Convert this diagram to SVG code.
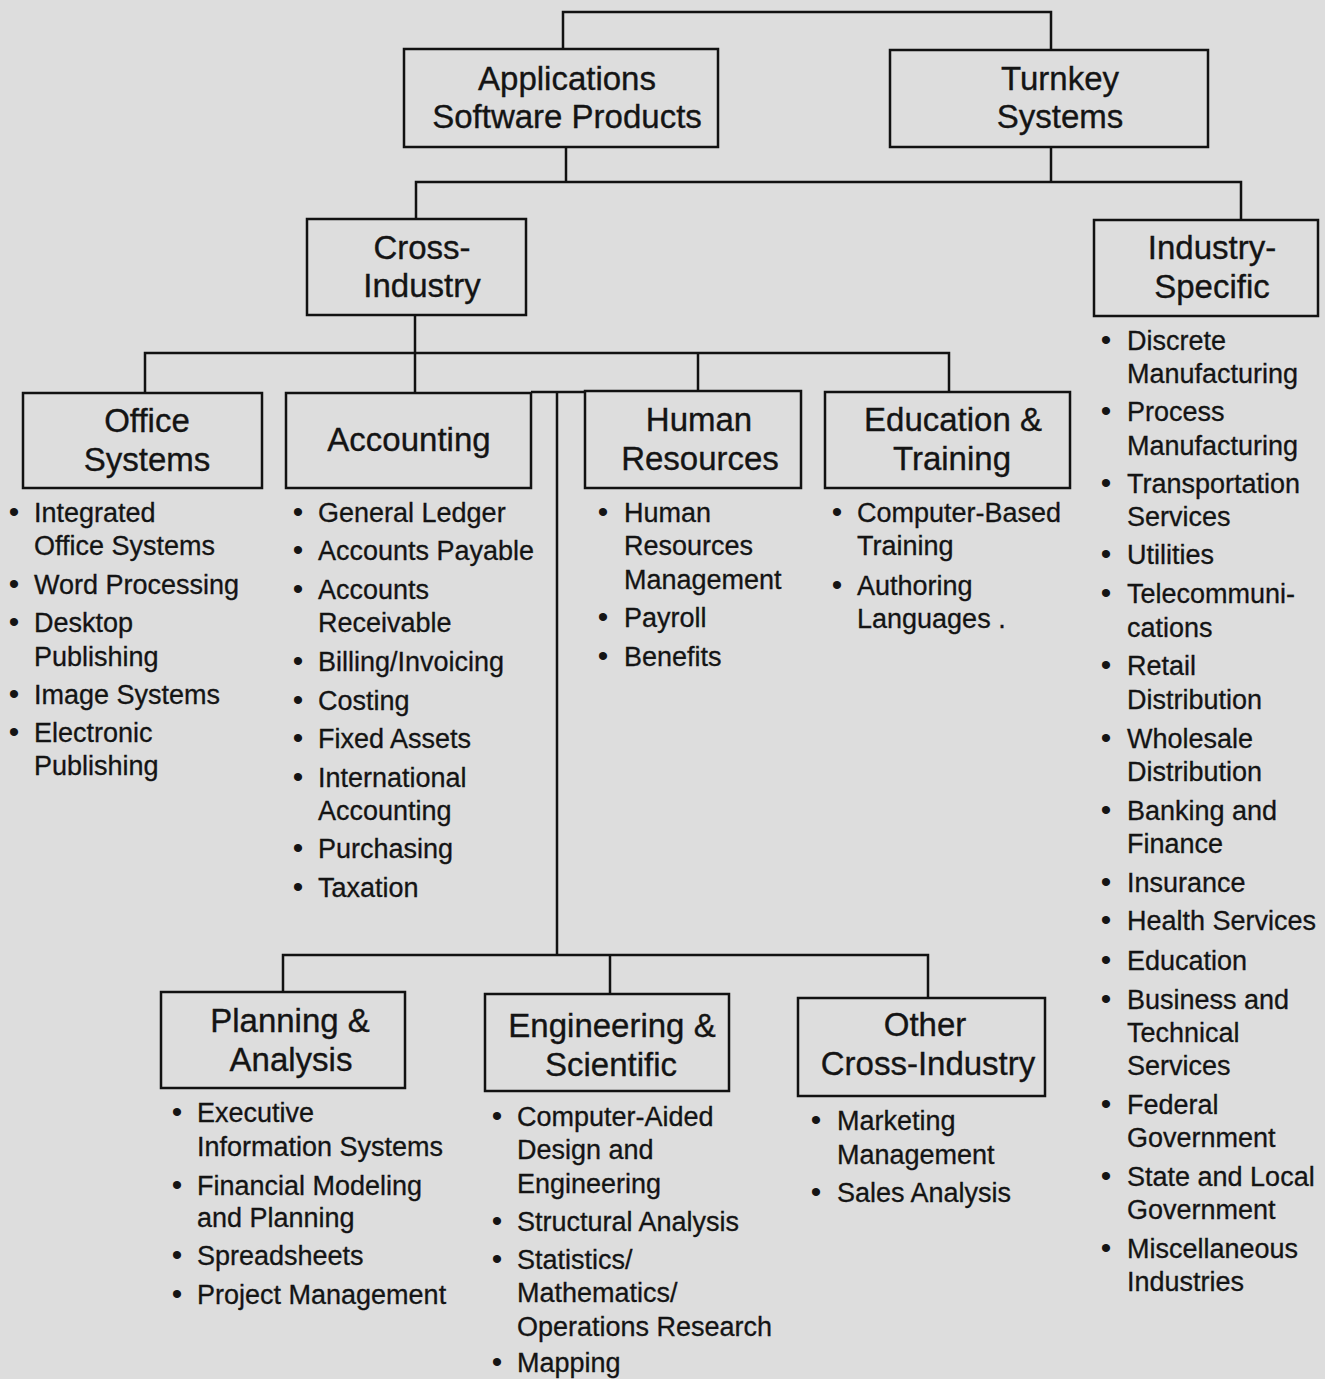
<svg xmlns="http://www.w3.org/2000/svg" width="1325" height="1379" viewBox="0 0 1325 1379">
  <style>
    .bg { fill: #dddddd; }
    .box { fill: none; stroke: #111; stroke-width: 2.5; }
    .wire { fill: none; stroke: #111; stroke-width: 2.5; }
    .title { font-family: "Liberation Sans", Arial, sans-serif; font-size: 33px; fill: #141414; stroke: #141414; stroke-width: 0.35; text-anchor: middle; }
    .item { font-family: "Liberation Sans", Arial, sans-serif; font-size: 27px; fill: #141414; stroke: #141414; stroke-width: 0.3; }
    .dot { font-family: "Liberation Sans", Arial, sans-serif; font-size: 30px; fill: #141414; text-anchor: middle; }
  </style>
  <rect class="bg" x="0" y="0" width="1325" height="1379"/>

  <!-- connectors -->
  <g id="connectors" class="wire">
    <polyline points="563,49 563,12 1051,12 1051,50"/>
    <line x1="566" y1="147" x2="566" y2="182"/>
    <line x1="1051" y1="147" x2="1051" y2="182"/>
    <polyline points="416,219 416,182 1241,182 1241,220"/>
    <line x1="415" y1="315" x2="415" y2="393"/>
    <polyline points="145,393 145,353 949,353 949,392"/>
    <line x1="698" y1="353" x2="698" y2="391"/>
    <line x1="531" y1="392" x2="585" y2="392"/>
    <line x1="557" y1="392" x2="557" y2="955"/>
    <polyline points="283,992 283,955 928,955 928,998"/>
    <line x1="610" y1="955" x2="610" y2="994"/>
  </g>

  <!-- top level -->
  <g id="applications">
    <rect class="box" x="404" y="49" width="314" height="98"/>
    <text class="title" x="567" y="90">Applications</text>
    <text class="title" x="567" y="128">Software Products</text>
  </g>
  <g id="turnkey">
    <rect class="box" x="890" y="50" width="318" height="97"/>
    <text class="title" x="1060" y="90">Turnkey</text>
    <text class="title" x="1060" y="128">Systems</text>
  </g>

  <!-- second level -->
  <g id="cross-industry">
    <rect class="box" x="307" y="219" width="219" height="96"/>
    <text class="title" x="422" y="259">Cross-</text>
    <text class="title" x="422" y="297">Industry</text>
  </g>
  <g id="industry-specific">
    <rect class="box" x="1094" y="220" width="224" height="96"/>
    <text class="title" x="1212" y="259">Industry-</text>
    <text class="title" x="1212" y="298">Specific</text>
    <g class="dot">
      <text x="1106" y="350">•</text><text x="1106" y="421">•</text><text x="1106" y="493">•</text>
      <text x="1106" y="564">•</text><text x="1106" y="603">•</text><text x="1106" y="675">•</text>
      <text x="1106" y="748">•</text><text x="1106" y="820">•</text><text x="1106" y="892">•</text>
      <text x="1106" y="930">•</text><text x="1106" y="970">•</text><text x="1106" y="1009">•</text>
      <text x="1106" y="1114">•</text><text x="1106" y="1186">•</text><text x="1106" y="1258">•</text>
    </g>
    <g class="item">
      <text x="1127" y="350">Discrete</text>
      <text x="1127" y="383">Manufacturing</text>
      <text x="1127" y="421">Process</text>
      <text x="1127" y="455">Manufacturing</text>
      <text x="1127" y="493">Transportation</text>
      <text x="1127" y="526">Services</text>
      <text x="1127" y="564">Utilities</text>
      <text x="1127" y="603">Telecommuni-</text>
      <text x="1127" y="637">cations</text>
      <text x="1127" y="675">Retail</text>
      <text x="1127" y="709">Distribution</text>
      <text x="1127" y="748">Wholesale</text>
      <text x="1127" y="781">Distribution</text>
      <text x="1127" y="820">Banking and</text>
      <text x="1127" y="853">Finance</text>
      <text x="1127" y="892">Insurance</text>
      <text x="1127" y="930">Health Services</text>
      <text x="1127" y="970">Education</text>
      <text x="1127" y="1009">Business and</text>
      <text x="1127" y="1042">Technical</text>
      <text x="1127" y="1075">Services</text>
      <text x="1127" y="1114">Federal</text>
      <text x="1127" y="1147">Government</text>
      <text x="1127" y="1186">State and Local</text>
      <text x="1127" y="1219">Government</text>
      <text x="1127" y="1258">Miscellaneous</text>
      <text x="1127" y="1291">Industries</text>
    </g>
  </g>

  <!-- third level -->
  <g id="office-systems">
    <rect class="box" x="23" y="393" width="239" height="95"/>
    <text class="title" x="147" y="432">Office</text>
    <text class="title" x="147" y="471">Systems</text>
    <g class="dot">
      <text x="14" y="522">•</text><text x="14" y="594">•</text><text x="14" y="632">•</text>
      <text x="14" y="704">•</text><text x="14" y="742">•</text>
    </g>
    <g class="item">
      <text x="34" y="522">Integrated</text>
      <text x="34" y="555">Office Systems</text>
      <text x="34" y="594">Word Processing</text>
      <text x="34" y="632">Desktop</text>
      <text x="34" y="666">Publishing</text>
      <text x="34" y="704">Image Systems</text>
      <text x="34" y="742">Electronic</text>
      <text x="34" y="775">Publishing</text>
    </g>
  </g>

  <g id="accounting">
    <rect class="box" x="286" y="393" width="245" height="95"/>
    <text class="title" x="409" y="451">Accounting</text>
    <g class="dot">
      <text x="298" y="522">•</text><text x="298" y="560">•</text><text x="298" y="599">•</text>
      <text x="298" y="671">•</text><text x="298" y="710">•</text><text x="298" y="748">•</text>
      <text x="298" y="787">•</text><text x="298" y="858">•</text><text x="298" y="897">•</text>
    </g>
    <g class="item">
      <text x="318" y="522">General Ledger</text>
      <text x="318" y="560">Accounts Payable</text>
      <text x="318" y="599">Accounts</text>
      <text x="318" y="632">Receivable</text>
      <text x="318" y="671">Billing/Invoicing</text>
      <text x="318" y="710">Costing</text>
      <text x="318" y="748">Fixed Assets</text>
      <text x="318" y="787">International</text>
      <text x="318" y="820">Accounting</text>
      <text x="318" y="858">Purchasing</text>
      <text x="318" y="897">Taxation</text>
    </g>
  </g>

  <g id="human-resources">
    <rect class="box" x="585" y="391" width="216" height="97"/>
    <text class="title" x="699" y="431">Human</text>
    <text class="title" x="700" y="470">Resources</text>
    <g class="dot">
      <text x="603" y="522">•</text><text x="603" y="627">•</text><text x="603" y="666">•</text>
    </g>
    <g class="item">
      <text x="624" y="522">Human</text>
      <text x="624" y="555">Resources</text>
      <text x="624" y="589">Management</text>
      <text x="624" y="627">Payroll</text>
      <text x="624" y="666">Benefits</text>
    </g>
  </g>

  <g id="education-training">
    <rect class="box" x="825" y="392" width="245" height="96"/>
    <text class="title" x="953" y="431">Education &amp;</text>
    <text class="title" x="952" y="470">Training</text>
    <g class="dot">
      <text x="837" y="522">•</text><text x="837" y="595">•</text>
    </g>
    <g class="item">
      <text x="857" y="522">Computer-Based</text>
      <text x="857" y="555">Training</text>
      <text x="857" y="595">Authoring</text>
      <text x="857" y="628">Languages .</text>
    </g>
  </g>

  <!-- fourth level -->
  <g id="planning-analysis">
    <rect class="box" x="161" y="992" width="244" height="96"/>
    <text class="title" x="290" y="1032">Planning &amp;</text>
    <text class="title" x="291" y="1071">Analysis</text>
    <g class="dot">
      <text x="177" y="1122">•</text><text x="177" y="1195">•</text><text x="177" y="1265">•</text>
      <text x="177" y="1304">•</text>
    </g>
    <g class="item">
      <text x="197" y="1122">Executive</text>
      <text x="197" y="1156">Information Systems</text>
      <text x="197" y="1195">Financial Modeling</text>
      <text x="197" y="1227">and Planning</text>
      <text x="197" y="1265">Spreadsheets</text>
      <text x="197" y="1304">Project Management</text>
    </g>
  </g>

  <g id="engineering-scientific">
    <rect class="box" x="485" y="994" width="244" height="97"/>
    <text class="title" x="612" y="1037">Engineering &amp;</text>
    <text class="title" x="611" y="1076">Scientific</text>
    <g class="dot">
      <text x="497" y="1126">•</text><text x="497" y="1231">•</text><text x="497" y="1269">•</text>
      <text x="497" y="1372">•</text>
    </g>
    <g class="item">
      <text x="517" y="1126">Computer-Aided</text>
      <text x="517" y="1159">Design and</text>
      <text x="517" y="1193">Engineering</text>
      <text x="517" y="1231">Structural Analysis</text>
      <text x="517" y="1269">Statistics/</text>
      <text x="517" y="1302">Mathematics/</text>
      <text x="517" y="1336">Operations Research</text>
      <text x="517" y="1372">Mapping</text>
    </g>
  </g>

  <g id="other-cross-industry">
    <rect class="box" x="798" y="998" width="247" height="98"/>
    <text class="title" x="925" y="1036">Other</text>
    <text class="title" x="928" y="1075">Cross-Industry</text>
    <g class="dot">
      <text x="816" y="1130">•</text><text x="816" y="1202">•</text>
    </g>
    <g class="item">
      <text x="837" y="1130">Marketing</text>
      <text x="837" y="1164">Management</text>
      <text x="837" y="1202">Sales Analysis</text>
    </g>
  </g>
</svg>
